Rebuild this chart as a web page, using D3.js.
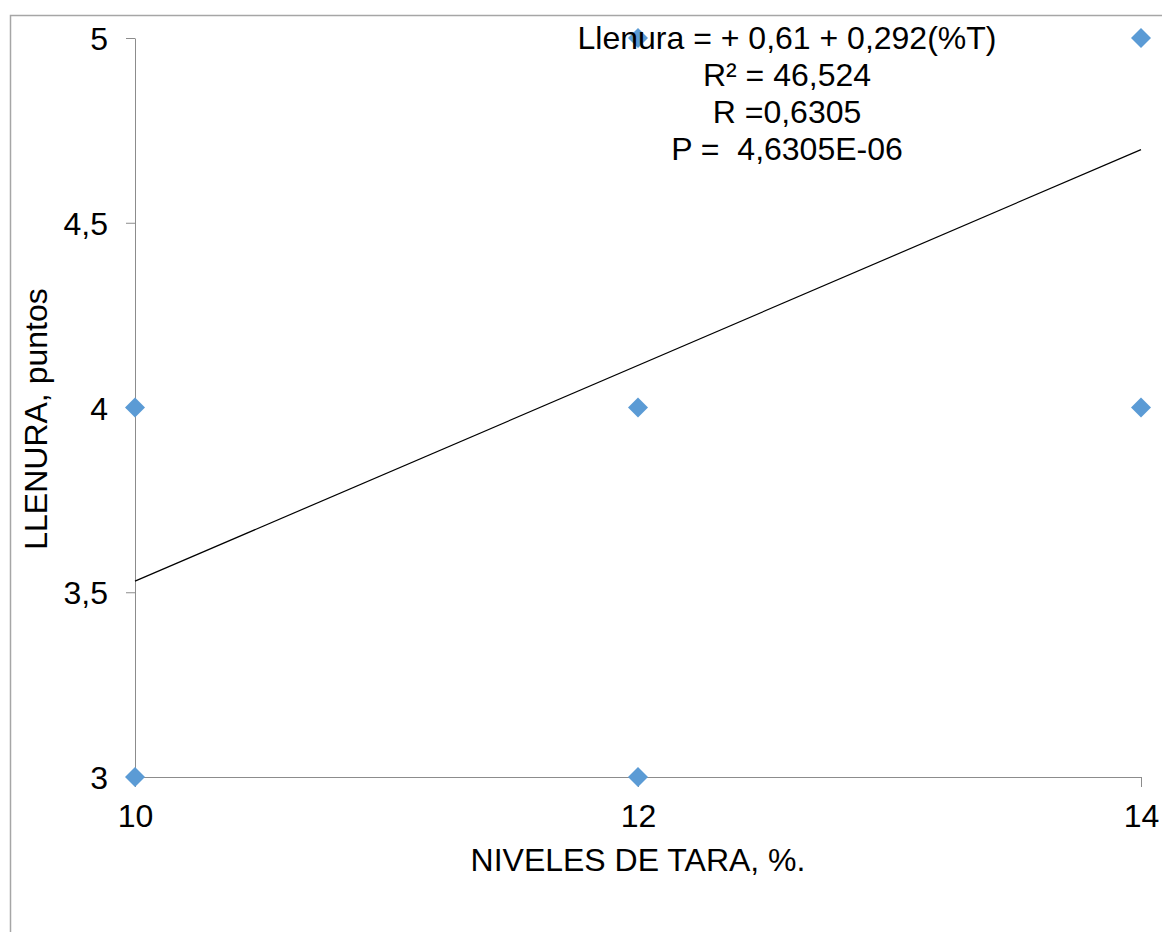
<!DOCTYPE html>
<html>
<head>
<meta charset="utf-8">
<script src="https://cdn.jsdelivr.net/npm/d3@7"></script>
<style>
  body { margin: 0; background: #fff; }
  text { font-family: "Liberation Sans", Arial, sans-serif; fill: #000; }
</style>
</head>
<body>
<svg id="chart"></svg>
<script>
// data
const tara = [10, 10, 12, 12, 12, 14, 14];
const llenura = [4, 3, 5, 4, 3, 5, 4];
const xTicks = [10, 12, 14];
const yTicks = [3, 3.5, 4, 4.5, 5];
const intercept = 0.61;
const slope = 0.292;
const statLines = ["Llenura = + 0,61 + 0,292(%T)", "R² = 46,524", "R =0,6305", "P =  4,6305E-06"];

const width = 1162, height = 932;
const margin = {top: 38, right: 21, bottom: 155, left: 135};

const svg = d3.select("#chart").attr("width", width).attr("height", height);

// outer frame, only left and top edges are visible
svg.append("rect")
    .attr("x", 10.5).attr("y", 15.5)
    .attr("width", 1300).attr("height", 1100)
    .attr("fill", "none").attr("stroke", "#a6a6a6").attr("stroke-width", 1.5);

const x = d3.scaleLinear().domain([10, 14]).range([margin.left, width - margin.right]);
const y = d3.scaleLinear().domain([3, 5]).range([height - margin.bottom, margin.top]);

const fmt = d => String(d).replace(".", ",");

// y axis
const yAxisG = svg.append("g")
    .attr("transform", `translate(${x(10)},0)`)
    .call(d3.axisLeft(y).tickValues(yTicks).tickFormat(fmt).tickSize(9).tickSizeOuter(0).tickPadding(18));
yAxisG.select(".domain").attr("stroke", "#8c8c8c");
yAxisG.selectAll(".tick line").attr("stroke", "#8c8c8c");
yAxisG.selectAll(".tick text").style("font-size", "32px").attr("dy", "0.36em");

// x axis
const xAxisG = svg.append("g")
    .attr("transform", `translate(0,${y(3)})`)
    .call(d3.axisBottom(x).tickValues(xTicks).tickFormat(d3.format("d")).tickSize(10).tickSizeOuter(0).tickPadding(17));
xAxisG.select(".domain").attr("stroke", "#8c8c8c");
xAxisG.selectAll(".tick line").attr("stroke", "#8c8c8c");
xAxisG.selectAll(".tick text").style("font-size", "32px").attr("dy", "0.71em");

// axis titles
svg.append("text")
    .attr("x", x(12)).attr("y", 871)
    .attr("text-anchor", "middle")
    .style("font-size", "32px")
    .text("NIVELES DE TARA, %.");

svg.append("text")
    .attr("transform", `translate(47,419) rotate(-90)`)
    .attr("text-anchor", "middle")
    .style("font-size", "32px")
    .text("LLENURA, puntos");

// trend line
svg.append("line")
    .attr("x1", x(10)).attr("y1", y(intercept + slope * 10))
    .attr("x2", x(14)).attr("y2", y(intercept + slope * 14))
    .attr("stroke", "#000").attr("stroke-width", 1.2);

// markers
const diamond = d3.symbol().type(d3.symbolSquare).size(200);
svg.append("g").selectAll("path")
    .data(tara.map((t, i) => ({t: t, l: llenura[i]})))
    .join("path")
    .attr("d", diamond)
    .attr("transform", d => `translate(${x(d.t)},${y(d.l)}) rotate(45)`)
    .attr("fill", "#5b9bd5");

// regression statistics
svg.append("g").selectAll("text")
    .data(statLines)
    .join("text")
    .attr("x", 787)
    .attr("y", (d, i) => 49 + i * 37)
    .attr("text-anchor", "middle")
    .attr("xml:space", "preserve")
    .style("white-space", "pre")
    .style("font-size", "32px")
    .text(d => d);
</script>
</body>
</html>
